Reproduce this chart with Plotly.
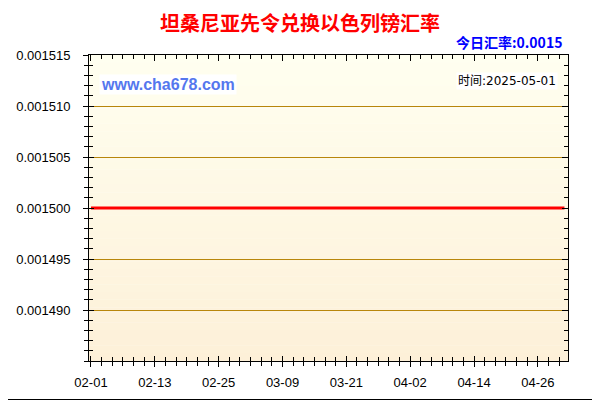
import plotly.graph_objects as go
import pandas as pd

# ---- data ----
dates = pd.date_range("2025-02-01", "2025-05-01", freq="D").strftime("%Y-%m-%d").tolist()
rates = [0.0015] * len(dates)
title_text = "坦桑尼亚先令兑换以色列镑汇率"
today_rate = "0.0015"
update_date = "2025-05-01"
site = "www.cha678.com"
y_ticks = [0.00149, 0.001495, 0.0015, 0.001505, 0.00151, 0.001515]
y_tick_labels = ["0.001490", "0.001495", "0.001500", "0.001505", "0.001510", "0.001515"]

x_range = ["2025-01-31 15:00", "2025-05-01 16:00"]
y_range = [0.001485, 0.001515]

# page offset (browser body margin) compensation
OFF = 8
W, H = 600, 400
L, T = 89 - OFF, 55 - OFF
pw, ph = 479, 306
R = W - L - pw
B = H - T - ph


def px(xp):
    return (xp - OFF - L) / pw


def py(yp):
    return (H - B - (yp - OFF)) / ph


fig = go.Figure()

fig.add_trace(go.Scatter(x=dates, y=rates, mode="lines",
                         line=dict(color="#FF0000", width=3), hoverinfo="skip",
                         showlegend=False))
# helper invisible traces for the mirrored tick axes
fig.add_trace(go.Scatter(x=[dates[0]], y=[rates[0]], xaxis="x2", yaxis="y2",
                         mode="markers", marker=dict(opacity=0), showlegend=False,
                         hoverinfo="skip"))
fig.add_trace(go.Scatter(x=[dates[0]], y=[rates[0]], xaxis="x3", yaxis="y3",
                         mode="markers", marker=dict(opacity=0), showlegend=False,
                         hoverinfo="skip"))

# gradient background bands
n = 40
top = (255, 255, 240)
bot = (253, 240, 216)
for i in range(n):
    t = (i + 0.5) / n
    c = tuple(round(top[k] + (bot[k] - top[k]) * t) for k in range(3))
    fig.add_shape(type="rect", xref="paper", yref="paper",
                  x0=0, x1=1, y0=1 - (i + 1) / n, y1=1 - i / n + 0.001,
                  fillcolor="rgb(%d,%d,%d)" % c, line=dict(width=0), layer="below")

# outer border (right and bottom edges visible within the window)
fig.add_shape(type="line", xref="paper", yref="paper",
              x0=px(599.5), x1=px(599.5), y0=py(-2), y1=py(399.5),
              line=dict(color="black", width=1), layer="above")
fig.add_shape(type="line", xref="paper", yref="paper",
              x0=px(-2), x1=px(599.5), y0=py(399.5), y1=py(399.5),
              line=dict(color="black", width=1), layer="above")

tickfont = dict(family="Liberation Sans, Arial", size=13, color="#000000")
common_x = dict(type="date", range=x_range, tick0="2025-02-01", dtick=12 * 86400000,
                showgrid=False, zeroline=False, linecolor="black", linewidth=1,
                tickcolor="black", automargin=False)
common_y = dict(range=y_range, zeroline=False, linecolor="black",
                linewidth=1, tickcolor="black", automargin=False)

fig.update_layout(
    width=W, height=H,
    margin=dict(l=L, r=R, t=T, b=B),
    paper_bgcolor="white",
    plot_bgcolor="rgba(0,0,0,0)",
    showlegend=False,
    xaxis=dict(**common_x, showline=True, ticks="outside", ticklen=5, tickformat="%m-%d",
               tickfont=tickfont, ticklabelstandoff=4,
               minor=dict(dtick=2 * 86400000, tick0="2025-02-01", ticks="outside", ticklen=4,
                          tickcolor="black")),
    yaxis=dict(**common_y, showline=True, ticks="outside", ticklen=5,
               tickvals=y_ticks, ticktext=y_tick_labels, tickfont=tickfont,
               ticklabelstandoff=10,
               showgrid=True, gridcolor="#B8860B", gridwidth=1,
               minor=dict(dtick=0.000001, tick0=0.00149, ticks="outside", ticklen=4,
                          tickcolor="black", showgrid=False)),
    xaxis2=dict(**common_x, overlaying="x", side="top", anchor="y2", showline=True,
                ticks="inside", ticklen=6, showticklabels=False,
                minor=dict(dtick=2 * 86400000, tick0="2025-02-01", ticks="inside", ticklen=4,
                           tickcolor="black")),
    yaxis2=dict(**common_y, overlaying="y", side="right", anchor="x2", showline=True,
                showgrid=False, ticks="inside", ticklen=6, showticklabels=False,
                tickvals=y_ticks,
                minor=dict(dtick=0.000001, tick0=0.00149, ticks="inside", ticklen=4,
                           tickcolor="black")),
    xaxis3=dict(**common_x, overlaying="x", side="bottom", anchor="y3", showline=False,
                ticks="inside", ticklen=5, showticklabels=False,
                minor=dict(dtick=2 * 86400000, tick0="2025-02-01", ticks="inside", ticklen=4,
                           tickcolor="black")),
    yaxis3=dict(**common_y, overlaying="y", side="left", anchor="x3", showline=False,
                showgrid=False, ticks="inside", ticklen=5, showticklabels=False,
                tickvals=y_ticks,
                minor=dict(dtick=0.000001, tick0=0.00149, ticks="inside", ticklen=4,
                           tickcolor="black")),
    annotations=[
        dict(text="<b>" + title_text + "</b>", xref="paper", yref="paper",
             x=px(300), y=py(23),
             xanchor="center", yanchor="middle", showarrow=False,
             font=dict(family="Noto Sans CJK SC", size=20, color="#FF0000")),
        dict(text="<b>今日汇率:" + today_rate + "</b>", xref="paper", yref="paper",
             x=px(564), y=py(42), xanchor="right", yanchor="middle",
             showarrow=False,
             font=dict(family="Noto Sans CJK SC", size=14, color="#0000FF")),
        dict(text="<b>" + site + "</b>", xref="paper", yref="paper",
             x=px(99), y=py(84), xanchor="left", yanchor="middle",
             showarrow=False, bgcolor="white", borderpad=1,
             font=dict(family="Liberation Sans, Arial", size=16, color="#5577EE")),
        dict(text="时间:" + update_date, xref="paper", yref="paper",
             x=px(558), y=py(81), xanchor="right", yanchor="middle",
             showarrow=False, bgcolor="white", borderpad=1,
             font=dict(family="DejaVu Sans, Noto Sans CJK SC", size=12, color="#000000")),
    ],
)

fig.write_html("out.html")
